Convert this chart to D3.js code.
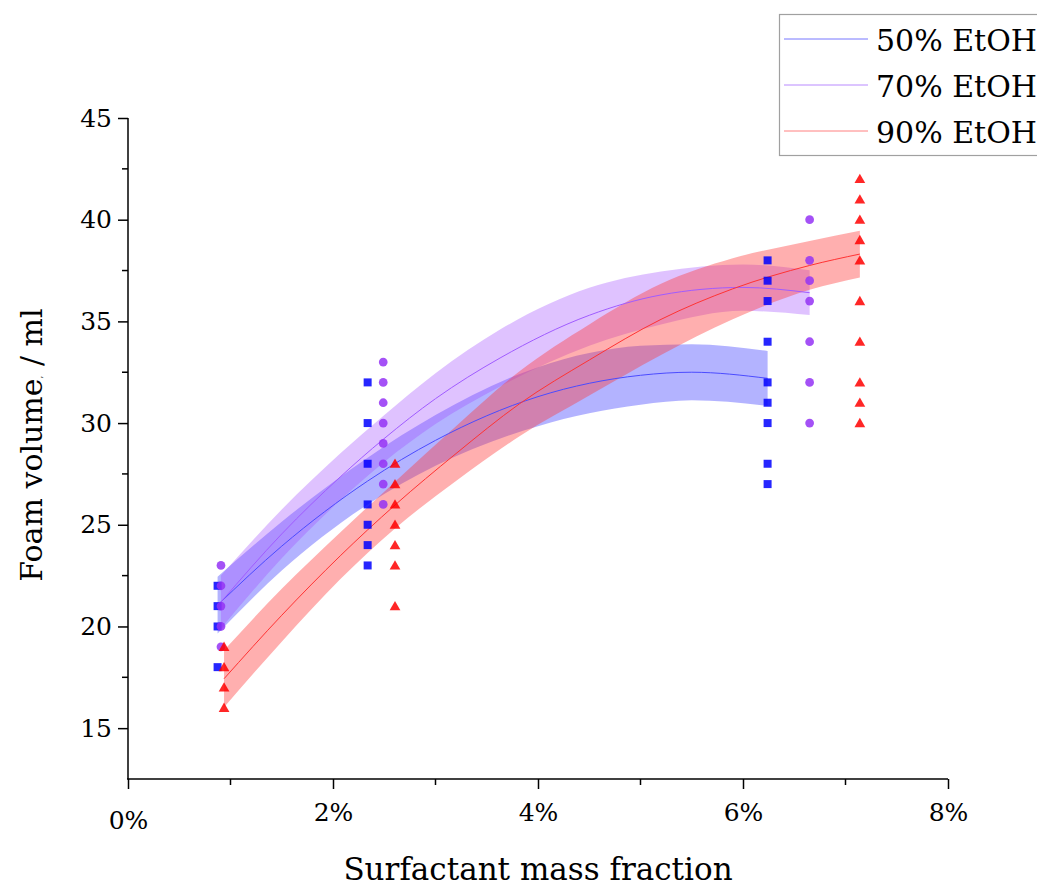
<!DOCTYPE html>
<html>
<head>
<meta charset="utf-8">
<script src="https://cdn.jsdelivr.net/npm/d3@7"></script>
<style>
  html, body { margin: 0; padding: 0; background: #fff; }
  svg { display: block; }
  text { font-family: "DejaVu Serif", serif; fill: #000; }
</style>
</head>
<body>
<svg id="chart" width="1037" height="886"></svg>
<script>
// Measured foam volumes (ml) at each surfactant mass fraction (%)
const blueX = [0.874, 2.338, 6.24];
const blueY = [
  [22, 21, 20, 18],
  [32, 30, 28, 26, 25, 24, 23],
  [38, 37, 36, 34, 32, 31, 30, 28, 27]
];
const purpleX = [0.907, 2.49, 6.65];
const purpleY = [
  [23, 22, 21, 20, 19],
  [33, 32, 31, 30, 29, 28, 27, 26],
  [40, 38, 37, 36, 34, 32, 30]
];
const redX = [0.937, 2.605, 7.14];
const redY = [
  [19, 18, 17, 16],
  [28, 27, 26, 25, 24, 23, 21],
  [42, 41, 40, 39, 38, 36, 34, 32, 31, 30]
];

// Quadratic fit curves with confidence bands
const blueFitX  = [0.874, 1.5, 2.338, 3.0, 4.0, 5.0, 5.5, 6.24];
const blueFitY  = [21.05, 23.95, 27.15, 29.15, 31.3, 32.35, 32.5, 32.2];
const blueFitHi = [22.45, 25.15, 28.3, 30.4, 32.75, 33.8, 33.88, 33.55];
const blueFitLo = [19.65, 22.75, 26.0, 27.9, 29.85, 30.9, 31.12, 30.85];

const purpleFitX  = [0.907, 1.5, 2.07, 2.49, 3.0, 3.63, 4.5, 5.2, 6.0, 6.65];
const purpleFitY  = [21.2, 24.55, 27.35, 29.2, 31.2, 33.2, 35.3, 36.3, 36.67, 36.41];
const purpleFitHi = [22.5, 25.75, 28.5, 30.35, 32.45, 34.6, 36.65, 37.45, 37.8, 37.51];
const purpleFitLo = [19.9, 23.35, 26.2, 28.05, 29.95, 31.8, 33.8, 34.85, 35.52, 35.31];

const redFitX  = [0.937, 1.5, 2.07, 2.605, 3.2, 3.82, 4.5, 5.2, 5.9, 6.65, 7.14];
const redFitY  = [17.43, 20.55, 23.47, 25.97, 28.5, 30.95, 33.1, 35.1, 36.6, 37.75, 38.31];
const redFitHi = [18.83, 21.85, 24.62, 27.12, 29.85, 32.55, 34.85, 36.85, 38.1, 38.95, 39.46];
const redFitLo = [16.03, 19.25, 22.32, 24.82, 27.15, 29.35, 31.35, 33.35, 35.1, 36.55, 37.16];

const seriesNames = ["50% EtOH", "70% EtOH", "90% EtOH"];
const xTicks = [0, 2, 4, 6, 8];
const yTicks = [15, 20, 25, 30, 35, 40, 45];

(function () {
const series = [
  { name: seriesNames[0], xs: blueX, ys: blueY, fx: blueFitX, fy: blueFitY, hi: blueFitHi, lo: blueFitLo,
    band: "#4a4aff", bandOpacity: 0.42, line: "#4b4bff", marker: "#0000ff", legendLine: "#7777ff", shape: "square" },
  { name: seriesNames[1], xs: purpleX, ys: purpleY, fx: purpleFitX, fy: purpleFitY, hi: purpleFitHi, lo: purpleFitLo,
    band: "#a04dff", bandOpacity: 0.34, line: "#a05cff", marker: "#9433f5", legendLine: "#b98aff", shape: "circle" },
  { name: seriesNames[2], xs: redX, ys: redY, fx: redFitX, fy: redFitY, hi: redFitHi, lo: redFitLo,
    band: "#ff3838", bandOpacity: 0.40, line: "#ff3333", marker: "#ff0000", legendLine: "#ff8080", shape: "triangle" }
];

const svg = d3.select("#chart");
const plotLeft = 128, plotRight = 948, plotTop = 118, plotBottom = 779;

const x = d3.scaleLinear().domain([0, 8]).range([plotLeft, plotRight]);
const y = d3.scaleLinear().domain([12.5, 45]).range([plotBottom, plotTop]);

// Confidence bands
const area = d3.area()
  .x(d => x(d.x)).y0(d => y(d.lo)).y1(d => y(d.hi))
  .curve(d3.curveMonotoneX);
const line = d3.line()
  .x(d => x(d.x)).y(d => y(d.y))
  .curve(d3.curveMonotoneX);

series.forEach(s => {
  const pts = s.fx.map((v, i) => ({ x: v, y: s.fy[i], lo: s.lo[i], hi: s.hi[i] }));
  svg.append("path").datum(pts)
    .attr("d", area)
    .attr("fill", s.band)
    .attr("fill-opacity", s.bandOpacity);
});

series.forEach(s => {
  const pts = s.fx.map((v, i) => ({ x: v, y: s.fy[i] }));
  svg.append("path").datum(pts)
    .attr("d", line)
    .attr("fill", "none")
    .attr("stroke", s.line)
    .attr("stroke-width", 1);
});

// Scatter markers
const symbolType = { square: d3.symbolSquare, circle: d3.symbolCircle, triangle: d3.symbolTriangle };
const symbolSize = { square: 64, circle: 60, triangle: 50 };
series.forEach(s => {
  const pts = [];
  s.xs.forEach((xv, i) => s.ys[i].forEach(v => pts.push({ x: xv, y: v })));
  const sym = d3.symbol().type(symbolType[s.shape]).size(symbolSize[s.shape]);
  svg.append("g").selectAll("path").data(pts).join("path")
    .attr("d", sym)
    .attr("transform", d => `translate(${x(d.x)},${y(d.y) + (s.shape === "triangle" ? 1 : 0)})`)
    .attr("fill", s.marker)
    .attr("fill-opacity", 0.85);
});

// Axes
const yAxis = d3.axisLeft(y).tickValues(yTicks).tickSize(10).tickPadding(6).tickSizeOuter(0);
const gy = svg.append("g").attr("transform", `translate(${plotLeft},0)`).call(yAxis);
gy.select(".domain").attr("stroke-width", 1.5).attr("d", `M0,${plotTop}V${plotBottom}`);
gy.selectAll(".tick line").attr("stroke-width", 1.5);
gy.selectAll(".tick text").attr("font-family", "DejaVu Serif").attr("font-size", 25).attr("fill", "#000");

// minor y ticks
svg.append("g").selectAll("line").data(d3.range(17.5, 45, 5))
  .join("line")
  .attr("x1", plotLeft - 6).attr("x2", plotLeft)
  .attr("y1", d => y(d)).attr("y2", d => y(d))
  .attr("stroke", "#000").attr("stroke-width", 1.5);

const xAxis = d3.axisBottom(x).tickValues(xTicks).tickFormat(d => d + "%").tickSize(10).tickPadding(14).tickSizeOuter(0);
const gx = svg.append("g").attr("transform", `translate(0,${plotBottom})`).call(xAxis);
gx.select(".domain").attr("stroke-width", 1.5).attr("d", `M${plotLeft - 1},0H${plotRight}`);
gx.selectAll(".tick line").attr("stroke-width", 1.5);
gx.selectAll(".tick text").attr("font-family", "DejaVu Serif").attr("font-size", 25).attr("fill", "#000")
  .attr("dy", d => d === 0 ? "1.05em" : "0.71em");

// minor x ticks
svg.append("g").selectAll("line").data([1, 3, 5, 7])
  .join("line")
  .attr("x1", d => x(d)).attr("x2", d => x(d))
  .attr("y1", plotBottom).attr("y2", plotBottom + 6)
  .attr("stroke", "#000").attr("stroke-width", 1.5);

// Axis titles
svg.append("text")
  .attr("x", x(4)).attr("y", 880)
  .attr("text-anchor", "middle")
  .attr("font-size", 31)
  .text("Surfactant mass fraction");

const yt = svg.append("text")
  .attr("transform", "translate(42,445) rotate(-90)")
  .attr("text-anchor", "middle")
  .attr("font-size", 30);
yt.append("tspan").text("Foam volume");
yt.append("tspan").attr("font-size", 9).text(",");
yt.append("tspan").text(" / ml");

// Legend
const lg = svg.append("g");
lg.append("rect")
  .attr("x", 779.5).attr("y", 14.5).attr("width", 300).attr("height", 141)
  .attr("fill", "#fff").attr("stroke", "#a0a0a0").attr("stroke-width", 1.2);
series.forEach((s, i) => {
  const ly = 39 + i * 46;
  lg.append("line")
    .attr("x1", 784).attr("x2", 868).attr("y1", ly).attr("y2", ly)
    .attr("stroke", s.legendLine).attr("stroke-width", 1);
  lg.append("text")
    .attr("x", 876).attr("y", ly + 12)
    .attr("font-size", 30)
    .text(s.name);
});
})();
</script>
</body>
</html>
